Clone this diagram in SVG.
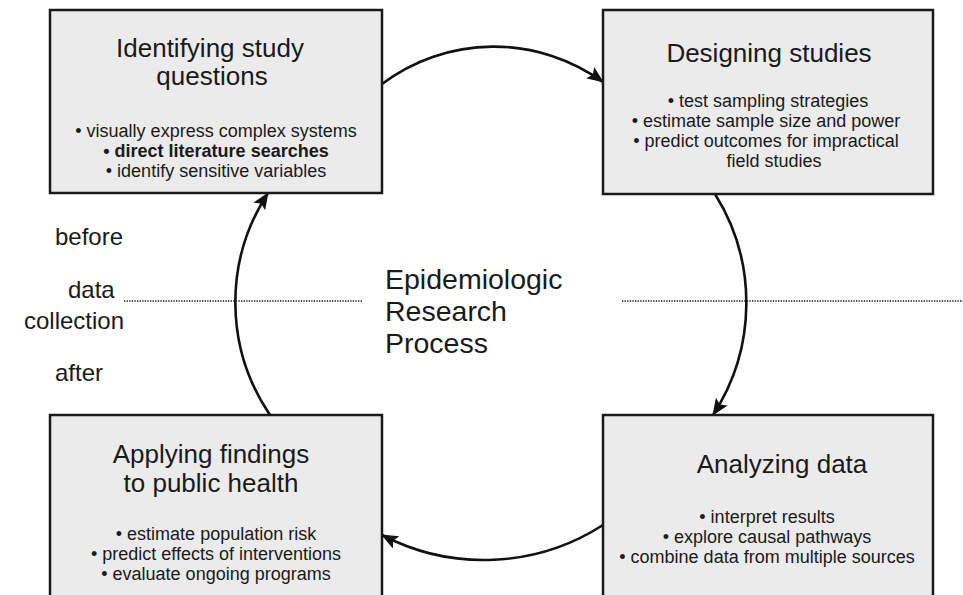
<svg xmlns="http://www.w3.org/2000/svg" width="963" height="595" viewBox="0 0 963 595">
  <style>
    text { font-family: "Liberation Sans", Arial, Helvetica, sans-serif; fill: #1a1a1a; }
    .box { fill: #ebebeb; stroke: #1a1a1a; stroke-width: 2.5; }
    .title { font-size: 26px; text-anchor: middle; }
    .item { font-size: 18px; text-anchor: middle; }
    .bold { font-weight: bold; }
    .side { font-size: 24px; }
    .center { font-size: 28.5px; }
    .arc { fill: none; stroke: #111; stroke-width: 2.6; marker-end: url(#head); }
    .divider { stroke: #111; stroke-width: 1.5; stroke-dasharray: 1.3 1.3; }
  </style>
  <defs>
    <marker id="head" markerUnits="userSpaceOnUse" markerWidth="18" markerHeight="14" refX="16" refY="7" orient="auto">
      <path d="M0,0 L17,7 L0,14 L3.5,7 z" fill="#111"/>
    </marker>
  </defs>

  <rect width="963" height="595" fill="#ffffff"/>

  <!-- before / after data collection divider -->
  <g id="divider">
    <line class="divider" x1="124" y1="301" x2="362" y2="301"/>
    <line class="divider" x1="622" y1="301" x2="963" y2="301"/>
    <text class="side" x="55" y="245">before</text>
    <text class="side" x="68" y="298">data</text>
    <text class="side" x="24" y="329">collection</text>
    <text class="side" x="55" y="381">after</text>
  </g>

  <g id="process-label">
    <text class="center" x="385" y="289">Epidemiologic</text>
    <text class="center" x="385" y="321">Research</text>
    <text class="center" x="385" y="353">Process</text>
  </g>

  <!-- cycle connectors -->
  <g id="connectors">
    <path class="arc" d="M382,84 A186,186 0 0 1 603,82"/>
    <path class="arc" d="M715,194 A205,205 0 0 1 713,415"/>
    <path class="arc" d="M603,525 A220,220 0 0 1 382,535"/>
    <path class="arc" d="M270,415 A200,200 0 0 1 268,193"/>
  </g>

  <g id="identifying">
    <rect class="box" x="50" y="10" width="332" height="183"/>
    <text class="title" x="210" y="57">Identifying study</text>
    <text class="title" x="212" y="85">questions</text>
    <text class="item" x="216" y="137">• visually express complex systems</text>
    <text class="item bold" x="216" y="157">• direct literature searches</text>
    <text class="item" x="216" y="177">• identify sensitive variables</text>
  </g>

  <g id="designing">
    <rect class="box" x="603" y="10" width="330" height="184"/>
    <text class="title" x="769" y="62">Designing studies</text>
    <text class="item" x="768" y="107">• test sampling strategies</text>
    <text class="item" x="766" y="127">• estimate sample size and power</text>
    <text class="item" x="766" y="147">• predict outcomes for impractical</text>
    <text class="item" x="774" y="167">field studies</text>
  </g>

  <g id="applying">
    <rect class="box" x="50" y="415" width="332" height="190"/>
    <text class="title" x="211" y="463">Applying findings</text>
    <text class="title" x="211" y="492">to public health</text>
    <text class="item" x="216" y="540">• estimate population risk</text>
    <text class="item" x="216" y="560">• predict effects of interventions</text>
    <text class="item" x="216" y="580">• evaluate ongoing programs</text>
  </g>

  <g id="analyzing">
    <rect class="box" x="603" y="415" width="330" height="190"/>
    <text class="title" x="782" y="473">Analyzing data</text>
    <text class="item" x="767" y="523">• interpret results</text>
    <text class="item" x="767" y="543">• explore causal pathways</text>
    <text class="item" x="767" y="563">• combine data from multiple sources</text>
  </g>
</svg>
